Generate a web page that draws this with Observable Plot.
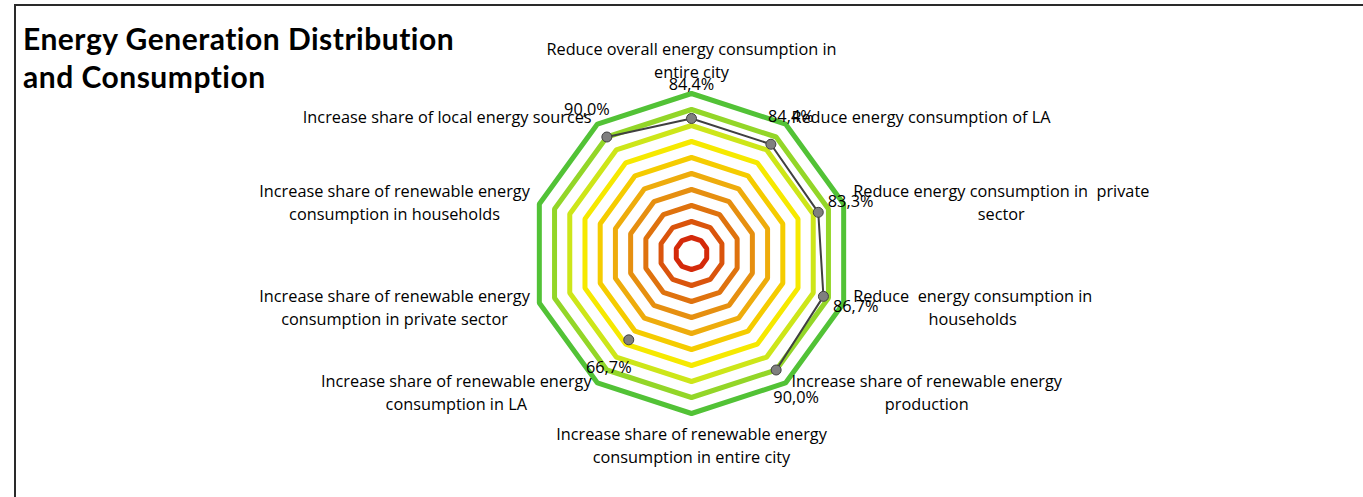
<!DOCTYPE html>
<html>
<head>
<meta charset="utf-8">
<script src="https://cdn.jsdelivr.net/npm/d3@7"></script>
<script src="https://cdn.jsdelivr.net/npm/@observablehq/plot@0.6"></script>
<style>
  html, body { margin: 0; padding: 0; background: #fff; }
  body { width: 1363px; height: 497px; position: relative; overflow: hidden; }
  #frame { position: absolute; left: 14px; top: 4px; right: -4px; bottom: -4px;
           border-top: 2px solid #2a2a2a; border-left: 2px solid #2a2a2a; }
  #title { position: absolute; left: 23px; top: 19px; font-family: Lato, sans-serif;
           font-weight: bold; font-size: 30px; letter-spacing: 0.5px; line-height: 38px; color: #000; z-index: 2; }
  #chart { position: absolute; left: 0; top: 0; }
  #chart svg text { white-space: pre; }
</style>
</head>
<body>
<div id="frame"></div>
<div id="title">Energy Generation Distribution<br>and Consumption</div>
<div id="chart"></div>
<script>
const categories = [
  "Reduce overall energy consumption in\nentire city",
  "Reduce energy consumption of LA",
  "Reduce energy consumption in  private\nsector",
  "Reduce  energy consumption in\nhouseholds",
  "Increase share of renewable energy\nproduction",
  "Increase share of renewable energy\nconsumption in entire city",
  "Increase share of renewable energy\nconsumption in LA",
  "Increase share of renewable energy\nconsumption in private sector",
  "Increase share of renewable energy\nconsumption in households",
  "Increase share of local energy sources"
];
const values = [0.844, 0.844, 0.833, 0.867, 0.900, null, 0.667, null, null, 0.900];
const levels = [0.1, 0.2, 0.3, 0.4, 0.5, 0.6, 0.7, 0.8, 0.9, 1.0];
const levelColors = ["#d42a0a", "#da540c", "#df720e", "#e68f10", "#eeac0c", "#f5cc00",
                     "#f6e900", "#cde619", "#93d628", "#52c236"];

const FONT = "'Open Sans', sans-serif";
const n = categories.length;
const ang = i => 2 * Math.PI * i / n;
const px = 160; // pixels per unit (outer ring radius)

// calibrate font size to the reference text width
const ctx = document.createElement("canvas").getContext("2d");
ctx.font = `16px ${FONT}`;
const FS = Math.round(16 * 290 / ctx.measureText("Reduce overall energy consumption in").width * 10) / 10;
ctx.font = `${FS}px ${FONT}`;

// rings
const ringData = [];
levels.forEach((lv, k) => {
  for (let i = 0; i <= n; i++) {
    const a = ang(i % n);
    ringData.push({level: lv, color: levelColors[k], x: Math.sin(a) * lv, y: Math.cos(a) * lv});
  }
});

// data polygon (closed, with gaps for missing values)
const lineData = [];
for (let i = 0; i <= n; i++) {
  const v = values[i % n];
  const a = ang(i % n);
  lineData.push(v == null ? {x: NaN, y: NaN} : {x: Math.sin(a) * v, y: Math.cos(a) * v});
}
const pts = values.map((v, i) => ({v, a: ang(i)})).filter(d => d.v != null);
const fmt = v => (v * 100).toFixed(1).replace(".", ",") + "%";
const labelOff = 34 / px;

const catMarks = categories.map((c, i) => {
  const a = ang(i);
  const s = Math.sin(a), co = Math.cos(a);
  const w = Math.max(...c.split("\n").map(l => ctx.measureText(l).width));
  const r = 170 / px;
  const dx = s > 0.01 ? w / 2 : s < -0.01 ? -w / 2 : 0;
  const lineAnchor = co > 0.99 ? "bottom" : co < -0.99 ? "top" : "middle";
  const dy = co > 0.99 ? -6 : 0;
  return Plot.text([{x: s * r, y: co * r, t: c}], {
    x: "x", y: "y", text: "t", textAnchor: "middle", lineAnchor, dx, dy,
    fontSize: FS, lineHeight: 23 / FS, fill: "#000"
  });
});

const chart = Plot.plot({
  width: 1363,
  height: 497,
  marginLeft: 531,
  marginRight: 512,
  marginTop: 93,
  marginBottom: 84,
  x: {domain: [-1, 1], axis: null},
  y: {domain: [-1, 1], axis: null},
  style: {fontFamily: FONT, fontSize: FS + "px", background: "transparent", overflow: "visible"},
  marks: [
    Plot.line(ringData, {x: "x", y: "y", z: "level", stroke: "color", strokeWidth: 5,
                         strokeLinejoin: "miter", curve: "linear"}),
    Plot.line(lineData, {x: "x", y: "y", stroke: "#404040", strokeWidth: 2}),
    Plot.dot(pts, {x: d => Math.sin(d.a) * d.v, y: d => Math.cos(d.a) * d.v, r: 5,
                   fill: "#7f7f7f", stroke: "#404040", strokeWidth: 1}),
    ...catMarks,
    Plot.text(pts, {x: d => Math.sin(d.a) * (d.v + labelOff), y: d => Math.cos(d.a) * (d.v + labelOff),
                    text: d => fmt(d.v), textAnchor: "middle", lineAnchor: "middle",
                    fontSize: FS, fill: "#000"})
  ]
});
document.getElementById("chart").appendChild(chart);
</script>
</body>
</html>
